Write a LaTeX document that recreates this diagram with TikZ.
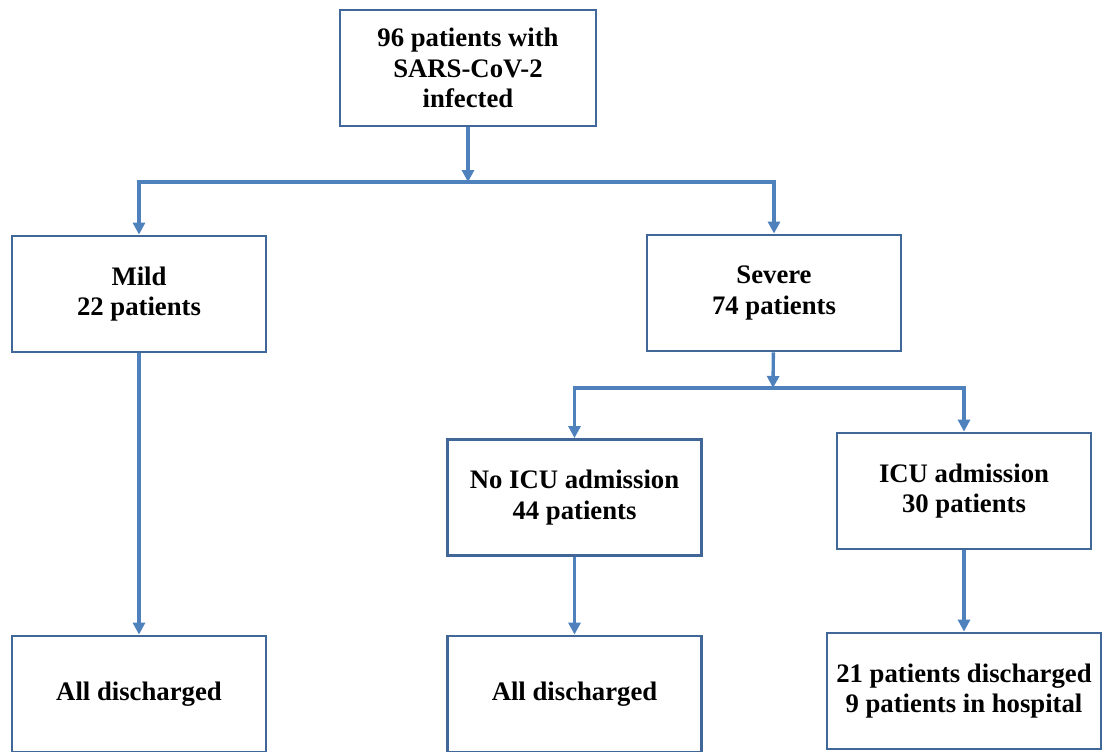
\documentclass[tikz,border=0pt]{standalone}
\usepackage{fontspec}
\setmainfont{Liberation Serif}
\usepackage{tikz}
\usetikzlibrary{arrows.meta, positioning, calc}
\definecolor{boxblue}{RGB}{65,102,152}
\definecolor{lineblue}{RGB}{79,129,189}

\begin{document}
\begin{tikzpicture}[x=0.025cm, y=-0.025cm, font=\bfseries\fontsize{19}{21.5}\selectfont]
  \tikzset{
    flowbox/.style={
      rectangle, draw=boxblue, line width=2pt,
      minimum width=6.35cm, minimum height=2.9cm,
      align=center, inner sep=2pt
    },
    flowarrow/.style={
      -{Triangle[length=3mm, width=3mm]}, draw=lineblue, line width=2.4pt
    }
  }
  \clip (0,0) rectangle (1104,751);
  % boxes placed at pixel coordinates of the reference
  \node[flowbox, minimum width=6.4cm] (total) at (468,68) {96 patients with\\SARS-CoV-2\\infected};
  \node[flowbox] (mild)   at (139,294) {Mild\\22 patients};
  \node[flowbox] (severe) at (774,293) {Severe\\74 patients};
  \node[flowbox] (noicu)  at (574.5,497.5) {No ICU admission\\44 patients};
  \node[flowbox] (icu)    at (964,491) {ICU admission\\30 patients};
  \node[flowbox] (milddis) at (139,694) {All discharged};
  \node[flowbox] (noicudis) at (574.5,694) {All discharged};
  \node[flowbox, minimum width=6.85cm] (icuout) at (964,691) {21 patients discharged\\9 patients in hospital};
  % branching points
  \coordinate (split1) at (468,182);
  \coordinate (split2) at (773,388);
  \draw[flowarrow] (total) -- (split1);
  \draw[flowarrow] (split1) -| (mild.north);
  \draw[flowarrow] (split1) -| (severe.north);
  \draw[flowarrow] (mild) -- (milddis);
  \draw[flowarrow] (severe) -- (split2);
  \draw[flowarrow] (split2) -| (noicu.north);
  \draw[flowarrow] (split2) -| (icu.north);
  \draw[flowarrow] (noicu) -- (noicudis);
  \draw[flowarrow] (icu) -- (icuout);
\end{tikzpicture}
\end{document}
